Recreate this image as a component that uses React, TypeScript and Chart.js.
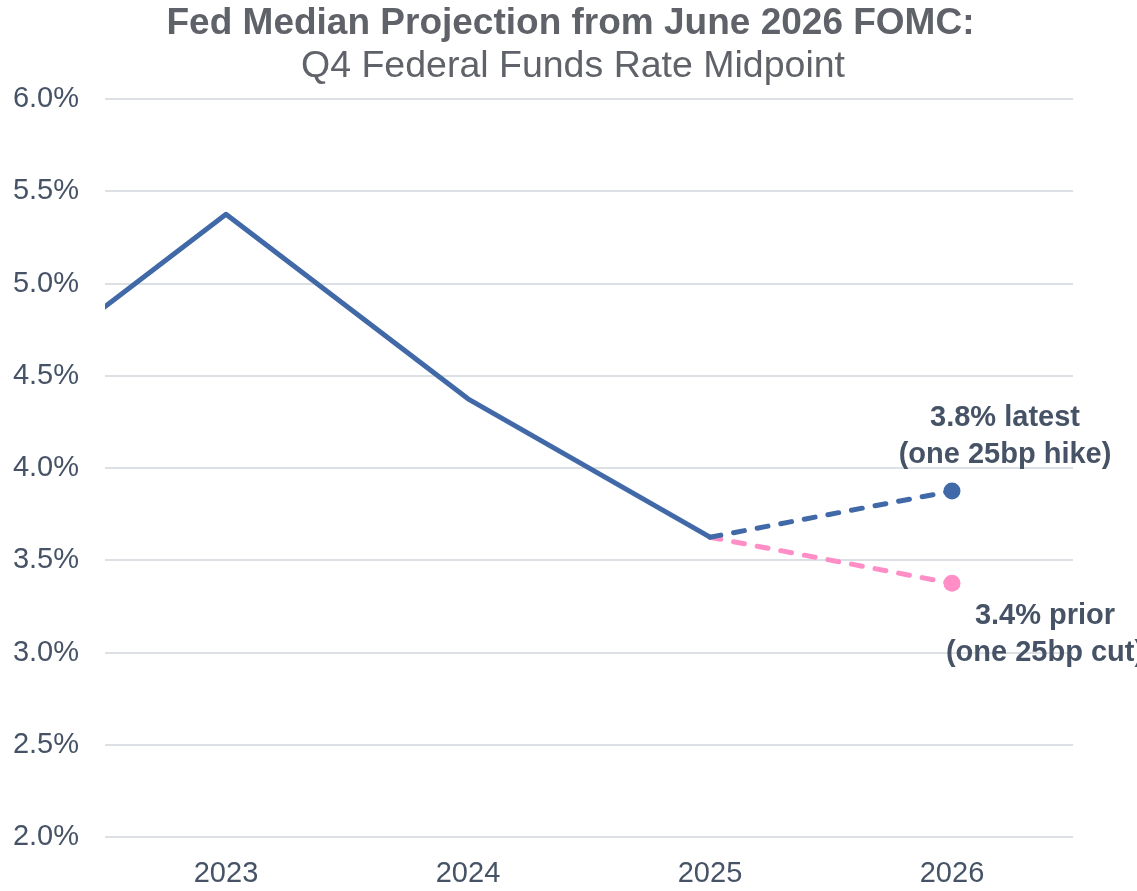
import React, { useEffect, useRef } from "react";
import { Chart, registerables } from "chart.js";

Chart.register(...registerables);

// ---- data ----
const histYears = [2022, 2023, 2024, 2025];
const histRates = [4.375, 5.375, 4.375, 3.625];
const projYears = [2025, 2026];
const latestRates = [3.625, 3.875];
const priorRates = [3.625, 3.375];
const xTickYears = [2023, 2024, 2025, 2026];
const yTickValues = [2.0, 2.5, 3.0, 3.5, 4.0, 4.5, 5.0, 5.5, 6.0];
const latestLabel = ["3.8% latest", "(one 25bp hike)"];
const priorLabel = ["3.4% prior", "(one 25bp cut)"];
const titleText = "Fed Median Projection from June 2026 FOMC:";
const subtitleText = "Q4 Federal Funds Rate Midpoint";

const FONT = "'Liberation Sans', Arial, Helvetica, sans-serif";
const BLUE = "#4169A8";
const PINK = "#FF8EC6";
const SLATE = "#465366";
const TITLE_GRAY = "#5F6268";
const GRID = "#DDE1E6";

const headerPlugin = {
  id: "header",
  afterDraw(chart: any) {
    const ctx = chart.ctx;
    ctx.save();
    ctx.fillStyle = TITLE_GRAY;
    ctx.textAlign = "center";
    ctx.textBaseline = "alphabetic";
    ctx.font = `bold 37px ${FONT}`;
    ctx.fillText(titleText, 570.5, 34);
    ctx.font = `37.5px ${FONT}`;
    ctx.fillText(subtitleText, 573, 77);
    ctx.restore();
  },
};

const annotationPlugin = {
  id: "endLabels",
  afterDatasetsDraw(chart: any) {
    const ctx = chart.ctx;
    const x = chart.scales.x;
    const y = chart.scales.y;
    ctx.save();
    ctx.font = `bold 29px ${FONT}`;
    ctx.fillStyle = SLATE;
    ctx.textAlign = "center";
    ctx.textBaseline = "alphabetic";
    const lx = x.getPixelForValue(projYears[1]);
    const ly = y.getPixelForValue(latestRates[1]);
    ctx.fillText(latestLabel[0], lx + 53, ly - 65);
    ctx.fillText(latestLabel[1], lx + 53, ly - 28);
    const py = y.getPixelForValue(priorRates[1]);
    ctx.fillText(priorLabel[0], lx + 93, py + 41);
    ctx.fillText(priorLabel[1], lx + 93, py + 78);
    ctx.restore();
  },
};

export default function App() {
  const canvasRef = useRef<HTMLCanvasElement | null>(null);

  useEffect(() => {
    document.body.style.margin = "0";
    const canvas = canvasRef.current;
    if (!canvas) return;
    const chart = new Chart(canvas, {
      type: "line",
      data: {
        datasets: [
          {
            label: "Actual",
            data: histYears.map((yr, i) => ({ x: yr, y: histRates[i] })),
            borderColor: BLUE,
            backgroundColor: BLUE,
            borderWidth: 5,
            pointRadius: 0,
            tension: 0,
            borderJoinStyle: "round",
          },
          {
            label: "Latest",
            data: projYears.map((yr, i) => ({ x: yr, y: latestRates[i] })),
            borderColor: BLUE,
            backgroundColor: BLUE,
            borderWidth: 5,
            borderDash: [11, 13],
            borderCapStyle: "round",
            pointRadius: [0, 8.5],
            pointHoverRadius: [0, 8.5],
            pointBorderWidth: 0,
            tension: 0,
          },
          {
            label: "Prior",
            data: projYears.map((yr, i) => ({ x: yr, y: priorRates[i] })),
            borderColor: PINK,
            backgroundColor: PINK,
            borderWidth: 5,
            borderDash: [11, 13],
            borderCapStyle: "round",
            pointRadius: [0, 8.5],
            pointHoverRadius: [0, 8.5],
            pointBorderWidth: 0,
            tension: 0,
          },
        ],
      },
      options: {
        animation: false,
        responsive: true,
        maintainAspectRatio: false,
        layout: { padding: { top: 99, right: 64, bottom: 0, left: 0 } },
        plugins: {
          legend: { display: false },
          tooltip: { enabled: false },
          title: { display: false },
          subtitle: { display: false },
        },
        scales: {
          x: {
            type: "linear",
            min: 2022.5,
            max: 2026.5,
            border: { display: false },
            grid: { display: false, drawTicks: false },
            afterBuildTicks: (scale: any) => {
              scale.ticks = xTickYears.map((v) => ({ value: v }));
            },
            afterFit: (scale: any) => {
              scale.height = 54;
            },
            ticks: {
              color: SLATE,
              padding: 20,
              font: { family: FONT, size: 29, lineHeight: 1.2 },
              callback: (v: any) => String(v),
              maxRotation: 0,
            },
          },
          y: {
            type: "linear",
            min: 2,
            max: 6,
            border: { display: false },
            grid: { color: GRID, lineWidth: 2, drawTicks: false },
            afterBuildTicks: (scale: any) => {
              scale.ticks = yTickValues.map((v) => ({ value: v }));
            },
            afterFit: (scale: any) => {
              scale.width = 105;
            },
            ticks: {
              color: SLATE,
              padding: 26,
              font: { family: FONT, size: 29, lineHeight: 1.2 },
              callback: (v: any) => Number(v).toFixed(1) + "%",
            },
          },
        },
      },
      plugins: [annotationPlugin, headerPlugin],
    });
    return () => chart.destroy();
  }, []);

  return (
    <div style={{ position: "absolute", left: 0, top: 0, width: 1137, height: 891, background: "#fff" }}>
      <canvas ref={canvasRef} />
    </div>
  );
}
